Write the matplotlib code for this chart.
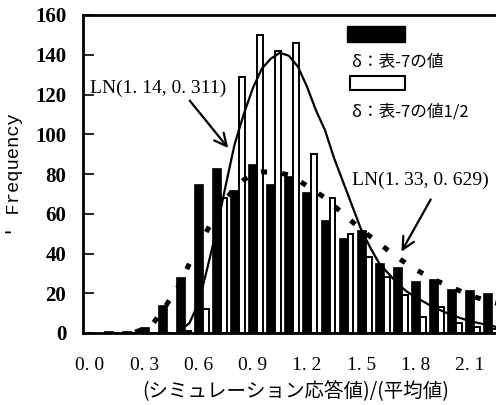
import numpy as np
import matplotlib.pyplot as plt
from matplotlib.patches import Rectangle

# bin positions (ratio of simulated response to mean value)
bin_x = [0.1, 0.2, 0.3, 0.4, 0.5, 0.6, 0.7, 0.8, 0.9, 1.0, 1.1,
         1.2, 1.3, 1.4, 1.5, 1.6, 1.7, 1.8, 1.9, 2.0, 2.1, 2.2]
# delta = table-7 value
black_counts = [1, 1, 3, 14, 28, 75, 83, 72, 85, 75, 79,
                71, 57, 48, 52, 35, 33, 26, 27, 22, 21.5, 20]
# delta = half of table-7 value
white_counts = [0, 0, 0, 0, 1, 12, 68, 129, 150, 142, 146,
                90, 68, 50, 38, 28, 19, 8, 13, 5, 3, 2]

# fitted LN(1.14, 0.311)
ln1_x = [0.48, 0.55, 0.60, 0.65, 0.70, 0.75, 0.80, 0.85, 0.90, 0.95, 1.00,
         1.05, 1.10, 1.15, 1.20, 1.25, 1.30, 1.35, 1.40, 1.45, 1.50, 1.55,
         1.60, 1.65, 1.70, 1.75, 1.80, 1.90, 2.00, 2.10, 2.20, 2.25]
ln1_y = [0, 5, 15, 33, 52, 74, 95, 110, 123, 133, 138,
         141, 139.5, 134, 124, 112, 102, 88, 76, 64, 52, 43,
         35, 30, 25, 21, 18, 13, 9, 6, 4, 3]

# fitted LN(1.33, 0.629)
ln2_x = [0.25, 0.30, 0.35, 0.40, 0.45, 0.50, 0.55, 0.60, 0.65, 0.70, 0.75,
         0.80, 0.85, 0.90, 0.95, 1.00, 1.05, 1.10, 1.15, 1.20, 1.30, 1.40,
         1.50, 1.60, 1.70, 1.80, 1.90, 2.00, 2.10, 2.20, 2.25]
ln2_y = [0.5, 2, 5, 11, 18, 25, 35, 43, 52, 60, 67,
         73, 77, 80, 81, 81, 80.5, 79.5, 77, 74, 68, 60,
         52, 45, 38, 32, 27, 23, 19, 16, 15]

xtick_vals = [0.0, 0.3, 0.6, 0.9, 1.2, 1.5, 1.8, 2.1]
xtick_text = ["0. 0", "0. 3", "0. 6", "0. 9", "1. 2", "1. 5", "1. 8", "2. 1"]
ytick_vals = [0, 20, 40, 60, 80, 100, 120, 140, 160]

cjk = ['Noto Sans CJK JP', 'DejaVu Sans']
serif = 'Liberation Serif'

fig = plt.figure(figsize=(4.96, 4.05), dpi=100)
ax = fig.add_axes([83 / 496, 1 - 333 / 405, 1 - 83 / 496, (333 - 15) / 405])

bx = np.array(bin_x)
ax.bar(bx, black_counts, width=0.05, color='black', edgecolor='black',
       linewidth=0.5, zorder=2)
ax.bar(bx + 0.041, white_counts, width=0.032, color='white',
       edgecolor='black', linewidth=1.4, zorder=3)

ax.plot(ln1_x, ln1_y, color='black', lw=1.6, zorder=4)
ax.plot(ln2_x, ln2_y, color='black', lw=3.6, linestyle=(0, (1.2, 3.0)),
        zorder=4)

ax.set_xlim(-0.0387, 2.2456)
ax.set_ylim(0, 160)
ax.set_xticks(xtick_vals)
ax.set_xticklabels(xtick_text, fontfamily=serif, fontsize=14)
ax.set_yticks(ytick_vals)
ax.set_yticklabels([str(v) for v in ytick_vals], fontfamily=serif,
                   fontsize=15, fontweight='bold')
ax.tick_params(axis='x', length=0, pad=17)
ax.tick_params(axis='y', direction='in', length=8, width=1.2, pad=12)

for side in ['left', 'bottom', 'top']:
    ax.spines[side].set_linewidth(2)
ax.spines['right'].set_visible(False)

# annotations
ax.text(0.0, 123, "LN(1. 14, 0. 311)", fontfamily=serif, fontsize=14,
        ha='left', va='center', zorder=6)
ax.annotate('', xy=(0.774, 92), xytext=(0.542, 118),
            arrowprops=dict(arrowstyle='->', lw=1.6, mutation_scale=22,
                            color='black'), zorder=6)
ax.text(1.449, 77, "LN(1. 33, 0. 629)", fontfamily=serif, fontsize=14,
        ha='left', va='center', zorder=6)
ax.annotate('', xy=(1.715, 39.7), xytext=(1.892, 68.4),
            arrowprops=dict(arrowstyle='->', lw=1.6, mutation_scale=22,
                            color='black'), zorder=6)

# legend drawn by hand
fig.add_artist(Rectangle((347 / 496, 1 - 42 / 405), 58 / 496, 16 / 405,
                         transform=fig.transFigure, facecolor='black',
                         edgecolor='black'))
fig.text(352 / 496, 1 - 62 / 405, "δ：表-7の値", family=cjk, fontsize=12,
         ha='left', va='center')
fig.add_artist(Rectangle((350 / 496, 1 - 90 / 405), 55 / 496, 14 / 405,
                         transform=fig.transFigure, facecolor='white',
                         edgecolor='black', linewidth=1.5))
fig.text(352 / 496, 1 - 112 / 405, "δ：表-7の値1/2", family=cjk, fontsize=12,
         ha='left', va='center')

fig.text(15 / 496, 1 - 175 / 405, "' Frequency", family='Liberation Mono',
         fontsize=13.5, rotation=90, ha='center', va='center')
fig.text(296 / 496, 1 - 392 / 405, "(シミュレーション応答値)/(平均値)",
         family=cjk, fontsize=14, ha='center', va='center')

fig.savefig('out.png', dpi=100)
